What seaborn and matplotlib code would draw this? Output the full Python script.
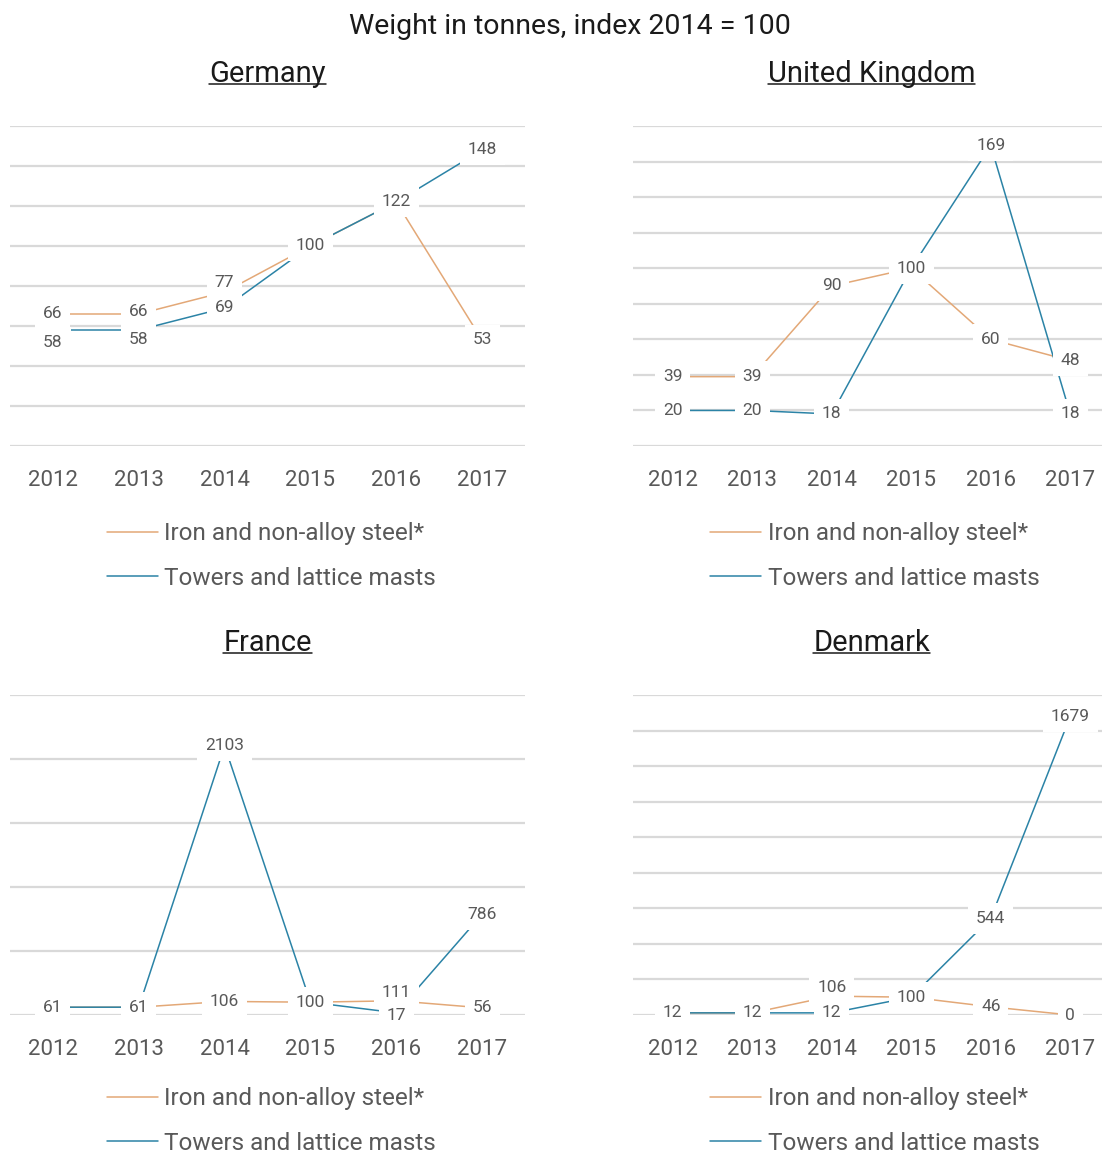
import matplotlib
matplotlib.use("Agg")
import matplotlib.pyplot as plt
from matplotlib.lines import Line2D
import pandas as pd
import seaborn as sns

years = ["2012", "2013", "2014", "2015", "2016", "2017"]
series_names = ["Iron and non-alloy steel*", "Towers and lattice masts"]

germany_iron = [66, 66, 77, 100, 122, 53]
germany_towers = [58, 58, 69, 100, 122, 148]
uk_iron = [39, 39, 90, 100, 60, 48]
uk_towers = [20, 20, 18, 100, 169, 18]
france_iron = [61, 61, 106, 100, 111, 56]
france_towers = [61, 61, 2103, 100, 17, 786]
denmark_iron = [12, 12, 106, 100, 46, 0]
denmark_towers = [12, 12, 12, 100, 544, 1679]

countries = ["Germany", "United Kingdom", "France", "Denmark"]
values = {
    "Germany": (germany_iron, germany_towers),
    "United Kingdom": (uk_iron, uk_towers),
    "France": (france_iron, france_towers),
    "Denmark": (denmark_iron, denmark_towers),
}
# axis max and grid step per panel
y_scale = {"Germany": (160, 20), "United Kingdom": (180, 20),
           "France": (2500, 500), "Denmark": (1800, 200)}

# label nudges in points (country, series index, year index) -> dy
label_nudge = {
    ("Germany", 0, 1): 2, ("Germany", 0, 2): 7,
    ("Germany", 1, 0): -9, ("Germany", 1, 1): -7,
    ("France", 0, 4): 6, ("France", 1, 4): -2,
    ("Denmark", 0, 2): 6,
}

ORANGE = "#E3A877"
BLUE = "#2B83A6"
TXT = "#595959"
GRID = "#D9D9D9"

sns.set_style("white")
plt.rcParams["font.family"] = ["Roboto", "DejaVu Sans"]

W, H = 1102, 1155
fig = plt.figure(figsize=(W / 100, H / 100), dpi=100)

# axes boxes in pixels: left, top, right, bottom
boxes = {
    "Germany": (10, 126, 525, 446),
    "United Kingdom": (633, 126, 1110, 446),
    "France": (10, 695, 525, 1015),
    "Denmark": (633, 695, 1110, 1015),
}

titles = []
for c in countries:
    l, t, r, b = boxes[c]
    ax = fig.add_axes([l / W, 1 - b / H, (r - l) / W, (b - t) / H])
    iron, towers = values[c]
    df = pd.DataFrame({
        "year": years * 2,
        "value": iron + towers,
        "series": [series_names[0]] * 6 + [series_names[1]] * 6,
    })
    sns.lineplot(data=df, x="year", y="value", hue="series",
                 palette=[ORANGE, BLUE], linewidth=1.1, ax=ax, zorder=3,
                 sort=False)
    ymax, step = y_scale[c]
    ax.set_ylim(0, ymax)
    ax.set_xlim(-0.5, 5.5)
    ax.set_yticks(range(0, ymax + 1, step))
    ax.yaxis.grid(True, color=GRID, linewidth=1.6, zorder=0)
    ax.set_axisbelow(True)
    ax.tick_params(axis="y", left=False, labelleft=False)
    ax.tick_params(axis="x", bottom=False, labelsize=16, labelcolor=TXT, pad=14)
    for s in ax.spines.values():
        s.set_visible(False)
    ax.set_xlabel("")
    ax.set_ylabel("")

    for si, ser in enumerate((iron, towers)):
        for i, v in enumerate(ser):
            dy = label_nudge.get((c, si, i), 0)
            ax.annotate(str(v), (i, v), xytext=(0, dy), textcoords="offset points",
                        ha="center", va="center", fontsize=12.5, color=TXT,
                        zorder=5, annotation_clip=False,
                        bbox=dict(boxstyle="square,pad=0.45", fc="white", ec="none"))

    leg_y = -0.17 if t < 500 else -0.158
    leg = ax.legend(loc="upper center", bbox_to_anchor=(0.507, leg_y),
                    frameon=False, fontsize=17.5, handlelength=2.1,
                    handletextpad=0.25, labelspacing=0.88)
    for txt in leg.get_texts():
        txt.set_color(TXT)
    for ln in leg.get_lines():
        ln.set_linewidth(1.1)

    ttl = ax.set_title(c, fontsize=21, color="#1a1a1a", pad=32)
    titles.append(ttl)

fig.text(570 / W, 1 - 27 / H, "Weight in tonnes, index 2014 = 100",
         ha="center", va="center", fontsize=20.5, color="#1a1a1a")

# underline the panel titles
fig.canvas.draw()
rend = fig.canvas.get_renderer()
for ttl in titles:
    bb = ttl.get_window_extent(renderer=rend)
    yline = bb.y0 + 4
    fig.add_artist(Line2D([bb.x0 / W, bb.x1 / W], [yline / H, yline / H],
                          transform=fig.transFigure, color="#1a1a1a",
                          linewidth=1.1))

fig.savefig("out.png", dpi=100, facecolor="white")
